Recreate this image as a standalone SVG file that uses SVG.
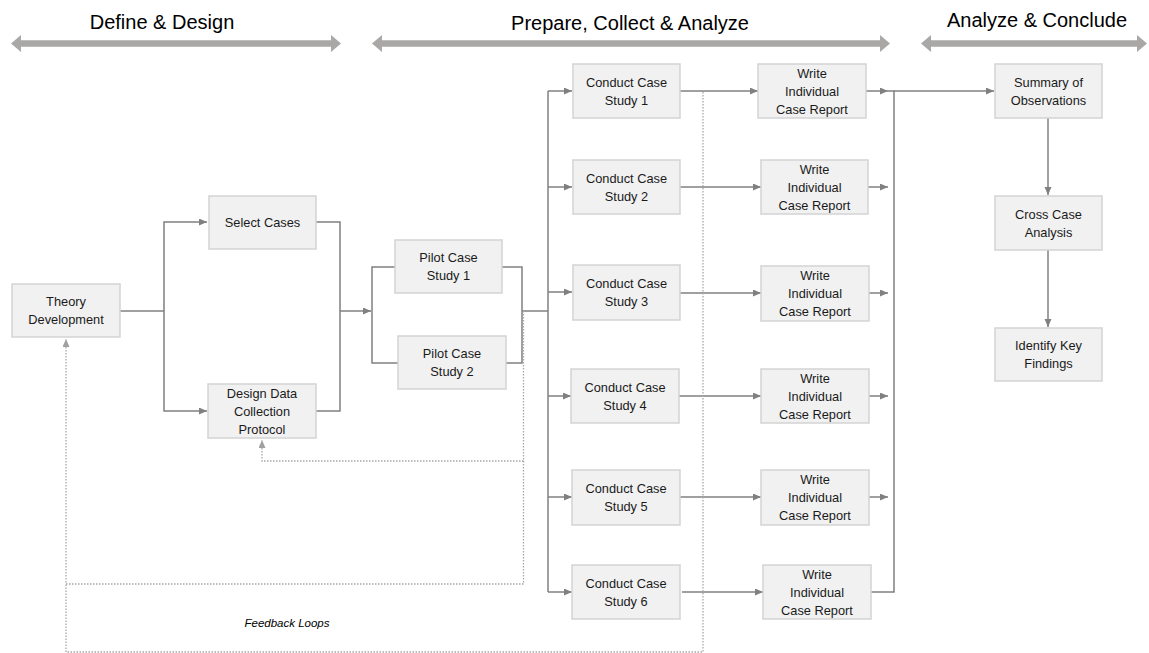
<svg xmlns="http://www.w3.org/2000/svg" width="1149" height="653" viewBox="0 0 1149 653">
<style>
.box{fill:#f1f1f1;stroke:#d3d3d3;stroke-width:1.5}
.t{font-family:"Liberation Sans",Arial,sans-serif;font-size:12.8px;fill:#1a1a1a;text-anchor:middle}
.h{font-family:"Liberation Sans",Arial,sans-serif;font-size:20px;fill:#000;text-anchor:middle}
.c{fill:none;stroke:#808080;stroke-width:1.5}
.d{fill:none;stroke:#a8a8a8;stroke-width:1.3;stroke-dasharray:1.5 1.5}
.bar{fill:#aaa8a6}
</style>
<defs>
<marker id="a" markerUnits="userSpaceOnUse" markerWidth="9" markerHeight="8" refX="8" refY="3.5" orient="auto"><path d="M0,0 L8,3.5 L0,7 z" fill="#808080"/></marker>
<marker id="ad" markerUnits="userSpaceOnUse" markerWidth="9" markerHeight="8" refX="8" refY="3.5" orient="auto"><path d="M0,0 L8,3.5 L0,7 z" fill="#a0a0a0"/></marker>
</defs>
<g id="headings">
<text class="h" x="162" y="29">Define &amp; Design</text>
<polygon class="bar" points="11,43.5 21,35 21,40.3 331,40.3 331,35 341,43.5 331,52 331,46.7 21,46.7 21,52"/>
<text class="h" x="630" y="30">Prepare, Collect &amp; Analyze</text>
<polygon class="bar" points="372,43.5 382,35 382,40.3 880,40.3 880,35 890,43.5 880,52 880,46.7 382,46.7 382,52"/>
<text class="h" x="1037" y="27">Analyze &amp; Conclude</text>
<polygon class="bar" points="921,43.5 931,35 931,40.3 1137,40.3 1137,35 1147,43.5 1137,52 1137,46.7 931,46.7 931,52"/>
</g>
<g id="connectors">
<path class="c" d="M120,311 H164"/>
<path class="c" d="M164,311 V222 H207" marker-end="url(#a)"/>
<path class="c" d="M164,311 V411 H207" marker-end="url(#a)"/>
<path class="c" d="M316,222 H340 V411 H316"/>
<path class="c" d="M340,311 H371" marker-end="url(#a)"/>
<path class="c" d="M395,267 H372 V363 H398"/>
<path class="c" d="M502,267 H522 V363 H506"/>
<path class="c" d="M522,311 H548"/>
<path class="c" d="M548,91 V592"/>
<path class="c" d="M548,91 H572" marker-end="url(#a)"/>
<path class="c" d="M548,187 H572" marker-end="url(#a)"/>
<path class="c" d="M548,292 H572" marker-end="url(#a)"/>
<path class="c" d="M548,396 H571" marker-end="url(#a)"/>
<path class="c" d="M548,497 H572" marker-end="url(#a)"/>
<path class="c" d="M548,592 H572" marker-end="url(#a)"/>
<path class="c" d="M680,91 H758" marker-end="url(#a)"/>
<path class="c" d="M680,187 H761" marker-end="url(#a)"/>
<path class="c" d="M680,293 H761" marker-end="url(#a)"/>
<path class="c" d="M679,396 H761" marker-end="url(#a)"/>
<path class="c" d="M680,497 H761" marker-end="url(#a)"/>
<path class="c" d="M682,592 H763" marker-end="url(#a)"/>
<path class="c" d="M866,91 H888" marker-end="url(#a)"/>
<path class="c" d="M868,187 H888" marker-end="url(#a)"/>
<path class="c" d="M869,293 H888" marker-end="url(#a)"/>
<path class="c" d="M869,396 H888" marker-end="url(#a)"/>
<path class="c" d="M869,497 H888" marker-end="url(#a)"/>
<path class="c" d="M871,592 H894 V91 H888"/>
<path class="c" d="M894,91 H994" marker-end="url(#a)"/>
<path class="c" d="M1048,118 V195" marker-end="url(#a)"/>
<path class="c" d="M1048,250 V327" marker-end="url(#a)"/>
<path class="d" d="M523.5,311 V584 H66 V339" marker-end="url(#ad)"/>
<path class="d" d="M523.5,461 H262 V440" marker-end="url(#ad)"/>
<path class="d" d="M703,92 V652 H66 V584"/>
</g>
<g id="theory"><rect class="box" x="12" y="284" width="108" height="53"/><text class="t" x="66" y="306">Theory</text><text class="t" x="66" y="324">Development</text></g>
<g id="select"><rect class="box" x="209" y="196" width="107" height="53"/><text class="t" x="262.5" y="227">Select Cases</text></g>
<g id="design"><rect class="box" x="208" y="384" width="108" height="54"/><text class="t" x="262" y="397.5">Design Data</text><text class="t" x="262" y="415.5">Collection</text><text class="t" x="262" y="433.5">Protocol</text></g>
<g id="pilot1"><rect class="box" x="395" y="240" width="107" height="53"/><text class="t" x="448.5" y="262">Pilot Case</text><text class="t" x="448.5" y="280">Study 1</text></g>
<g id="pilot2"><rect class="box" x="398" y="336" width="108" height="53"/><text class="t" x="452" y="358">Pilot Case</text><text class="t" x="452" y="376">Study 2</text></g>
<g id="conduct1"><rect class="box" x="573" y="64" width="107" height="54"/><text class="t" x="626.5" y="86.5">Conduct Case</text><text class="t" x="626.5" y="104.5">Study 1</text></g>
<g id="conduct2"><rect class="box" x="573" y="160" width="107" height="54"/><text class="t" x="626.5" y="182.5">Conduct Case</text><text class="t" x="626.5" y="200.5">Study 2</text></g>
<g id="conduct3"><rect class="box" x="573" y="265" width="107" height="55"/><text class="t" x="626.5" y="288">Conduct Case</text><text class="t" x="626.5" y="306">Study 3</text></g>
<g id="conduct4"><rect class="box" x="571" y="369" width="108" height="54"/><text class="t" x="625" y="391.5">Conduct Case</text><text class="t" x="625" y="409.5">Study 4</text></g>
<g id="conduct5"><rect class="box" x="572" y="470" width="108" height="55"/><text class="t" x="626" y="493">Conduct Case</text><text class="t" x="626" y="511">Study 5</text></g>
<g id="conduct6"><rect class="box" x="572" y="565" width="108" height="54"/><text class="t" x="626" y="587.5">Conduct Case</text><text class="t" x="626" y="605.5">Study 6</text></g>
<g id="write1"><rect class="box" x="758" y="64" width="108" height="54"/><text class="t" x="812" y="77.5">Write</text><text class="t" x="812" y="95.5">Individual</text><text class="t" x="812" y="113.5">Case Report</text></g>
<g id="write2"><rect class="box" x="761" y="160" width="107" height="54"/><text class="t" x="814.5" y="173.5">Write</text><text class="t" x="814.5" y="191.5">Individual</text><text class="t" x="814.5" y="209.5">Case Report</text></g>
<g id="write3"><rect class="box" x="761" y="266" width="108" height="55"/><text class="t" x="815" y="280">Write</text><text class="t" x="815" y="298">Individual</text><text class="t" x="815" y="316">Case Report</text></g>
<g id="write4"><rect class="box" x="761" y="369" width="108" height="54"/><text class="t" x="815" y="382.5">Write</text><text class="t" x="815" y="400.5">Individual</text><text class="t" x="815" y="418.5">Case Report</text></g>
<g id="write5"><rect class="box" x="761" y="470" width="108" height="55"/><text class="t" x="815" y="484">Write</text><text class="t" x="815" y="502">Individual</text><text class="t" x="815" y="520">Case Report</text></g>
<g id="write6"><rect class="box" x="763" y="565" width="108" height="54"/><text class="t" x="817" y="578.5">Write</text><text class="t" x="817" y="596.5">Individual</text><text class="t" x="817" y="614.5">Case Report</text></g>
<g id="summary"><rect class="box" x="995" y="64" width="107" height="54"/><text class="t" x="1048.5" y="86.5">Summary of</text><text class="t" x="1048.5" y="104.5">Observations</text></g>
<g id="cross"><rect class="box" x="995" y="196" width="107" height="54"/><text class="t" x="1048.5" y="218.5">Cross Case</text><text class="t" x="1048.5" y="236.5">Analysis</text></g>
<g id="identify"><rect class="box" x="995" y="328" width="107" height="53"/><text class="t" x="1048.5" y="350">Identify Key</text><text class="t" x="1048.5" y="368">Findings</text></g>
<g id="feedback-label"><text class="t" x="287" y="627" style="font-size:11.5px;font-style:italic;fill:#000">Feedback Loops</text></g>
</svg>
